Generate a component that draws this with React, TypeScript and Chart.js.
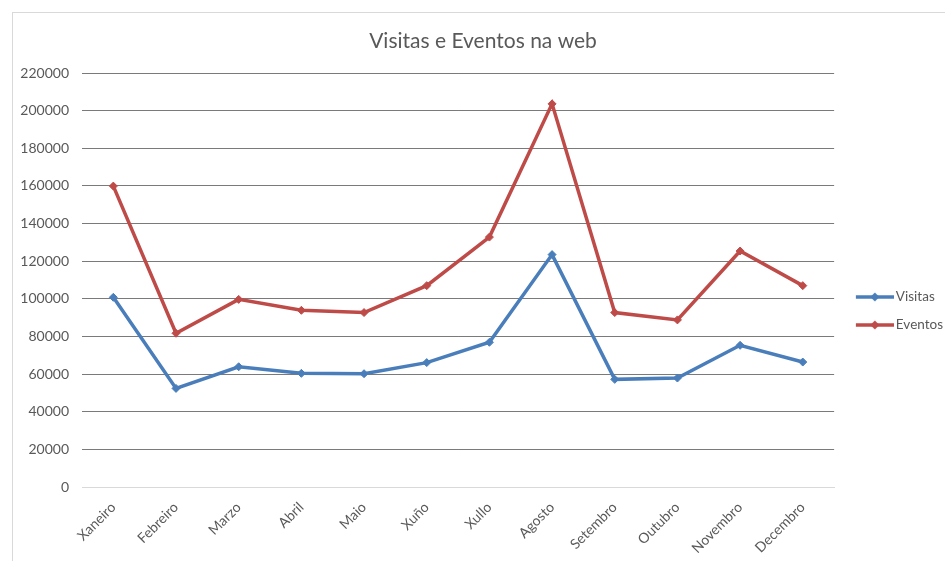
import React, { useEffect, useRef } from "react";
import { Chart, registerables } from "chart.js";

Chart.register(...registerables);

const chartTitle = "Visitas e Eventos na web";
const months = ["Xaneiro", "Febreiro", "Marzo", "Abril", "Maio", "Xuño", "Xullo", "Agosto", "Setembro", "Outubro", "Novembro", "Decembro"];
const visitas = [100800, 52400, 63900, 60400, 60200, 66100, 76900, 123500, 57200, 57900, 75300, 66400];
const eventos = [159900, 81700, 99700, 93900, 92700, 107000, 132800, 203600, 92700, 88800, 125400, 107000];
const yMin = 0;
const yMax = 220000;
const yStep = 20000;

const BLUE = "#4a7ebb";
const RED = "#be4b48";
const TEXT = "#595959";
const FONT = "Lato";

function legendIcon(color: string) {
  const c = document.createElement("canvas");
  c.width = 50;
  c.height = 12;
  const ctx = c.getContext("2d")!;
  ctx.strokeStyle = color;
  ctx.lineWidth = 3.5;
  ctx.beginPath();
  ctx.moveTo(12, 6);
  ctx.lineTo(50, 6);
  ctx.stroke();
  ctx.fillStyle = color;
  const cx = 31;
  ctx.beginPath();
  ctx.moveTo(cx, 1.5);
  ctx.lineTo(cx + 4.5, 6);
  ctx.lineTo(cx, 10.5);
  ctx.lineTo(cx - 4.5, 6);
  ctx.closePath();
  ctx.fill();
  return c;
}

export default function App() {
  const ref = useRef<HTMLCanvasElement | null>(null);

  useEffect(() => {
    if (!ref.current) return;
    const icons = [legendIcon(BLUE), legendIcon(RED)];
    const chart = new Chart(ref.current, {
      type: "line",
      data: {
        labels: months,
        datasets: [
          {
            label: "Visitas",
            data: visitas,
            borderColor: BLUE,
            backgroundColor: BLUE,
            borderWidth: 3.5,
            pointStyle: "rectRot",
            pointRadius: 4,
            pointBorderWidth: 1,
            tension: 0,
          },
          {
            label: "Eventos",
            data: eventos,
            borderColor: RED,
            backgroundColor: RED,
            borderWidth: 3.5,
            pointStyle: "rectRot",
            pointRadius: 4,
            pointBorderWidth: 1,
            tension: 0,
          },
        ],
      },
      options: {
        animation: false,
        responsive: false,
        maintainAspectRatio: false,
        layout: { padding: { left: 0, right: 5, top: 0, bottom: 0 } },
        plugins: {
          title: {
            display: true,
            text: chartTitle,
            color: TEXT,
            font: { family: FONT, size: 21, weight: "normal" },
            padding: { top: 16.4, bottom: 19.4 },
          },
          legend: {
            position: "right",
            title: { display: true, text: " ", font: { family: FONT, size: 13 }, padding: { top: 0, bottom: 21.4 } },
            labels: {
              usePointStyle: true,
              pointStyleWidth: 40.5,
              padding: 14.5,
              color: TEXT,
              font: { family: FONT, size: 13.5 },
              generateLabels: (ch: any) => {
                const items = Chart.defaults.plugins.legend.labels.generateLabels(ch);
                return items.map((it: any, i: number) => ({ ...it, pointStyle: icons[i] }));
              },
            },
          },
          tooltip: { enabled: false },
        },
        scales: {
          x: {
            offset: true,
            grid: { display: false, drawTicks: false },
            border: { display: true, color: "#d9d9d9", width: 1 },
            ticks: {
              color: TEXT,
              font: { family: FONT, size: 14 },
              minRotation: 45,
              maxRotation: 45,
              padding: 12,
              autoSkip: false,
            },
            afterFit: (s: any) => {
              s.height = 86;
            },
          },
          y: {
            min: yMin,
            max: yMax,
            border: { display: false },
            grid: {
              drawTicks: false,
              color: (c: any) => (c.tick && c.tick.value === 0 ? "#d9d9d9" : "#7a7a7a"),
              lineWidth: 1,
            },
            ticks: {
              stepSize: yStep,
              color: TEXT,
              font: { family: FONT, size: 14 },
              padding: 13,
              callback: (v: any) => String(v),
            },
            afterFit: (s: any) => {
              s.width = 69;
            },
          },
        },
      },
    });
    return () => chart.destroy();
  }, []);

  return (
    <div style={{ position: "fixed", left: 0, top: 0, width: 945, height: 561, overflow: "hidden", background: "#fff" }}>
      <div
        style={{
          position: "absolute",
          left: 12,
          top: 12,
          width: 960,
          height: 600,
          border: "1px solid #d9d9d9",
          boxSizing: "border-box",
        }}
      />
      <div style={{ position: "absolute", left: 13, top: 12, width: 945, height: 561 }}>
        <canvas ref={ref} width={945} height={561} style={{ width: 945, height: 561 }} />
      </div>
    </div>
  );
}
